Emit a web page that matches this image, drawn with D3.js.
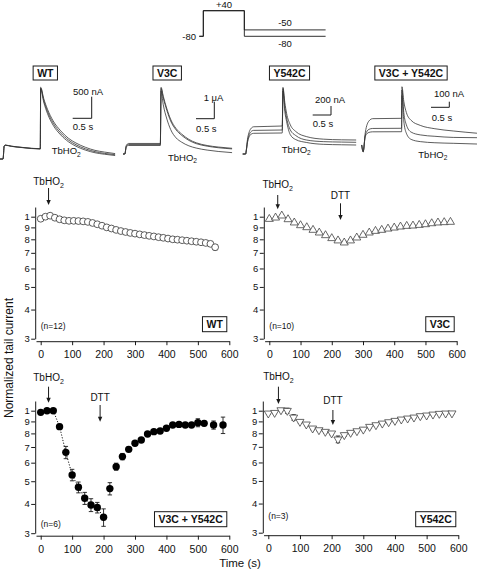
<!DOCTYPE html>
<html><head><meta charset="utf-8">
<script src="https://cdn.jsdelivr.net/npm/d3@7"></script>
<style>
body{margin:0;background:#fff}
svg{display:block}
text{font-family:"Liberation Sans",Arial,Helvetica,sans-serif;fill:#111}
</style>
</head><body>
<svg id="c" width="477" height="571"></svg>
<script>
// ---------------- DATA ----------------
const yTickValues = [0.3,0.4,0.5,0.6,0.7,0.8,0.9,1.0];
const yTickLabels = ["3","4","5","6","7","8","9","1"];
const xTickValues = [0,100,200,300,400,500,600];

const wtTime  = [0,15,30,45,60,75,90,105,120,135,150,165,180,195,210,225,240,255,270,285,300,315,330,345,360,375,390,405,420,435,450,465,480,495,510,525,540,555];
const wtValue = [0.98,1.0,1.01,0.99,0.975,0.965,0.96,0.96,0.958,0.955,0.95,0.94,0.928,0.915,0.9,0.89,0.878,0.868,0.86,0.852,0.846,0.84,0.834,0.828,0.823,0.817,0.812,0.806,0.8,0.797,0.793,0.789,0.785,0.781,0.777,0.772,0.765,0.74];
const wtErr   = [0.005,0.005,0.005,0.005,0.005,0.005,0.005,0.005,0.005,0.005,0.005,0.005,0.005,0.005,0.006,0.006,0.006,0.006,0.007,0.007,0.008,0.008,0.008,0.009,0.009,0.009,0.01,0.01,0.01,0.011,0.011,0.012,0.012,0.012,0.013,0.014,0.015,0.02];

const v3cTime  = [0,20,40,60,80,100,120,140,160,180,200,220,240,260,280,300,320,340,360,380,400,420,440,460,480,500,520,540,560,580];
const v3cValue = [0.977,0.99,1.01,0.974,0.943,0.918,0.9,0.877,0.854,0.832,0.808,0.79,0.774,0.79,0.813,0.835,0.854,0.868,0.877,0.888,0.897,0.906,0.912,0.915,0.921,0.927,0.936,0.943,0.946,0.949];
const v3cErr   = [0.008,0.008,0.01,0.008,0.008,0.008,0.008,0.008,0.008,0.008,0.008,0.01,0.01,0.01,0.008,0.008,0.008,0.008,0.008,0.008,0.008,0.008,0.008,0.008,0.008,0.008,0.008,0.008,0.008,0.01];

const dblTime  = [0,20,40,60,80,100,120,140,160,180,200,220,240,260,280,300,320,340,360,380,400,420,440,460,480,500,520,550,580];
const dblValue = [0.984,1.0,1.0,0.855,0.664,0.532,0.471,0.423,0.396,0.386,0.351,0.465,0.577,0.637,0.684,0.726,0.75,0.795,0.814,0.819,0.841,0.869,0.874,0.869,0.869,0.889,0.883,0.869,0.869];
const dblErr   = [0.01,0.008,0.008,0.02,0.04,0.03,0.025,0.025,0.025,0.02,0.03,0.028,0.02,0.02,0.015,0.012,0.012,0.012,0.012,0.012,0.012,0.015,0.015,0.012,0.012,0.035,0.02,0.035,0.07];

const y542Time  = [0,20,40,60,80,100,120,140,160,180,200,220,240,260,280,300,320,340,360,380,400,420,440,460,480,500,520,540,560,580];
const y542Value = [0.974,0.98,1.006,1.0,0.936,0.897,0.874,0.84,0.826,0.813,0.8,0.754,0.787,0.805,0.818,0.831,0.854,0.868,0.882,0.894,0.906,0.918,0.927,0.936,0.949,0.955,0.964,0.971,0.974,0.975];
const y542Err   = [0.01,0.01,0.012,0.025,0.025,0.012,0.012,0.012,0.01,0.01,0.012,0.025,0.012,0.01,0.01,0.01,0.01,0.01,0.01,0.01,0.01,0.01,0.01,0.01,0.01,0.01,0.01,0.01,0.01,0.01];

// voltage protocol (s, mV)
const protoTime = [0,0.11,0.11,1.23,1.23,3.45];
const protoV50  = [-80,-80,40,40,-50,-50];
const protoV80  = [-80,-80,40,40,-80,-80];

// current traces [time s, current nA]
const wtTraceA = [[0,0],[0.08,0],[0.11,300],[0.14,322],[0.3,298],[0.6,268],[1.06,238],[1.07,1660],[1.15,1400],[1.25,1150],[1.4,880],[1.6,650],[1.8,480],[2.0,370],[2.25,270],[2.5,200],[2.75,160],[3.03,125]];
const wtTraceB = [[0,0],[0.08,0],[0.11,300],[0.14,320],[0.3,295],[0.6,265],[1.06,235],[1.07,1640],[1.15,1360],[1.25,1100],[1.4,830],[1.6,600],[1.8,440],[2.0,330],[2.25,235],[2.5,170],[2.75,130],[3.03,100]];
const wtTraceC = [[0,0],[0.08,0],[0.11,298],[0.14,318],[0.3,292],[0.6,262],[1.06,232],[1.07,1620],[1.15,1320],[1.25,1050],[1.4,780],[1.6,555],[1.8,400],[2.0,295],[2.25,205],[2.5,145],[2.75,110],[3.03,80]];

const v3cTraceA = [[0,0],[0.05,0],[0.09,500],[0.15,620],[1.02,620],[1.04,3920],[1.1,3400],[1.2,2650],[1.3,2050],[1.45,1500],[1.6,1180],[1.8,860],[2.0,660],[2.3,500],[2.6,410],[2.98,335]];
const v3cTraceB = [[0,0],[0.05,0],[0.09,460],[0.15,560],[1.02,560],[1.04,3850],[1.1,3300],[1.2,2550],[1.3,1950],[1.45,1420],[1.6,1100],[1.8,800],[2.0,610],[2.3,460],[2.6,370],[2.98,300]];
const v3cTraceC = [[0,0],[0.05,0],[0.09,420],[0.15,500],[1.02,500],[1.04,3700],[1.1,2900],[1.2,2050],[1.3,1450],[1.45,950],[1.6,700],[1.8,480],[2.0,350],[2.3,230],[2.6,150],[2.98,80]];

const y542TraceA = [[0,0],[0.08,0],[0.1,100],[0.13,320],[0.17,470],[0.22,560],[0.3,605],[1.08,622],[1.1,1480],[1.15,1150],[1.2,900],[1.3,650],[1.45,500],[1.75,385],[2.2,330],[2.7,315],[3.1,311]];
const y542TraceB = [[0,0],[0.08,0],[0.1,90],[0.13,280],[0.17,410],[0.22,490],[0.3,525],[1.08,533],[1.1,1450],[1.15,1050],[1.2,800],[1.3,535],[1.45,410],[1.75,310],[2.2,275],[2.7,265],[3.1,260]];
const y542TraceC = [[0,0],[0.08,0],[0.1,80],[0.13,250],[0.17,370],[0.22,435],[0.3,460],[1.08,467],[1.1,1400],[1.15,950],[1.2,720],[1.3,430],[1.45,320],[1.75,255],[2.2,215],[2.7,205],[3.1,200]];

const dblTraceA = [[0,120],[0.04,0],[0.1,350],[0.2,550],[0.3,590],[1.09,596],[1.1,1160],[1.15,900],[1.22,700],[1.35,560],[1.6,470],[2.0,410],[2.5,370],[3.15,330]];
const dblTraceB = [[0,120],[0.04,0],[0.1,300],[0.2,400],[0.3,415],[1.09,418],[1.1,1100],[1.15,700],[1.22,480],[1.35,350],[1.6,300],[2.0,275],[2.5,255],[3.15,250]];
const dblTraceC = [[0,120],[0.04,0],[0.1,280],[0.2,345],[0.3,355],[1.09,357],[1.1,1000],[1.15,550],[1.22,330],[1.35,220],[1.6,180],[2.0,160],[2.5,150],[3.15,137]];

// ---------------- DRAWING ----------------
const svg = d3.select('#c');
const ink = '#1a1a1a';

function tbho2(g, x, y, size, anchor) {
  const t = g.append('text').attr('x', x).attr('y', y).attr('font-size', size).attr('text-anchor', anchor || 'start');
  t.append('tspan').text('TbHO');
  t.append('tspan').attr('font-size', size * 0.7).attr('dy', size * 0.3).text('2');
  return t;
}
function boxLabel(parent, x, cy, text, anchor, h) {
  const g = parent.append('g');
  const r = g.append('rect');
  const t = g.append('text').attr('font-weight', 'bold').attr('font-size', 10.5)
    .attr('x', 0).attr('y', cy + 3.8).text(text);
  const w = t.node().getComputedTextLength() + 8;
  const left = anchor === 'end' ? x - w : x - w / 2;
  t.attr('x', left + 4);
  r.attr('x', left).attr('y', cy - h / 2).attr('width', w).attr('height', h)
    .attr('fill', '#fff').attr('stroke', ink).attr('stroke-width', 1);
}
function arrow(g, x, y0, y1) {
  g.append('line').attr('x1', x).attr('x2', x).attr('y1', y0).attr('y2', y1 - 4)
    .attr('stroke', ink).attr('stroke-width', 1);
  g.append('path').attr('d', `M${x - 2.2},${y1 - 5}L${x + 2.2},${y1 - 5}L${x},${y1}Z`).attr('fill', ink);
}

// ---- voltage protocol ----
{
  const g = svg.append('g');
  const px = d3.scaleLinear().domain([0, 3.45]).range([199.3, 325.6]);
  const py = d3.scaleLinear().domain([-80, 40]).range([36.3, 10.7]);
  const ln = d3.line().x(d => px(d[0])).y(d => py(d[1]));
  [protoV50, protoV80].forEach(v => {
    g.append('path').attr('d', ln(protoTime.map((t, i) => [t, v[i]])))
      .attr('fill', 'none').attr('stroke', ink).attr('stroke-width', 0.9);
  });
  g.append('text').attr('x', 224).attr('y', 7.5).attr('font-size', 9.5).attr('text-anchor', 'middle').text('+40');
  g.append('text').attr('x', 196).attr('y', 39.5).attr('font-size', 9.5).attr('text-anchor', 'end').text('-80');
  g.append('text').attr('x', 285).attr('y', 25.5).attr('font-size', 9.5).attr('text-anchor', 'middle').text('-50');
  g.append('text').attr('x', 285).attr('y', 46.5).attr('font-size', 9.5).attr('text-anchor', 'middle').text('-80');
}

// ---- current trace panels ----
const tracePanels = [
  {label: 'WT', lx: 45.3, ox: 0, oy: 159, pxs: 38, pxn: 0.0432, traces: [wtTraceA, wtTraceB, wtTraceC],
   bar: {x: 91.7, y: 118.3, nA: 500, text: '500 nA', tx: 88, ty: 94.5}, sx: 72.7, sy: 130, tb: [51.7, 154]},
  {label: 'V3C', lx: 167.2, ox: 123, oy: 154, pxs: 36.6, pxn: 0.017, traces: [v3cTraceA, v3cTraceB, v3cTraceC],
   bar: {x: 214.3, y: 118.7, nA: 1000, text: '1 \u03BCA', tx: 213.5, ty: 101}, sx: 196, sy: 131.5, tb: [168, 160.5]},
  {label: 'Y542C', lx: 289.5, ox: 242.7, oy: 154, pxs: 36.6, pxn: 0.045, traces: [y542TraceA, y542TraceB, y542TraceC],
   bar: {x: 331, y: 115, nA: 200, text: '200 nA', tx: 330, ty: 102.5}, sx: 312.7, sy: 126.8, tb: [281.7, 152.5]},
  {label: 'V3C + Y542C', lx: 411, ox: 361.7, oy: 151.7, pxs: 36.6, pxn: 0.056, traces: [dblTraceA, dblTraceB, dblTraceC],
   bar: {x: 449.3, y: 107.3, nA: 100, text: '100 nA', tx: 449, ty: 96.8}, sx: 431.7, sy: 120.8, tb: [418.3, 157.5]}
];
tracePanels.forEach(p => {
  const g = svg.append('g');
  const xs = d3.scaleLinear().domain([0, 1]).range([p.ox, p.ox + p.pxs]);
  const ys = d3.scaleLinear().domain([0, 1000]).range([p.oy, p.oy - 1000 * p.pxn]);
  const ln = d3.line().x(d => xs(d[0])).y(d => ys(d[1])).curve(d3.curveMonotoneX);
  p.traces.forEach(tr => {
    g.append('path').attr('d', ln(tr)).attr('fill', 'none').attr('stroke', '#333').attr('stroke-width', 0.8);
  });
  const b = p.bar;
  const hx0 = b.x - (xs(0.5) - xs(0));
  const vy0 = b.y - (ys(0) - ys(b.nA));
  g.append('path').attr('d', `M${hx0},${b.y}L${b.x},${b.y}L${b.x},${vy0}`)
    .attr('fill', 'none').attr('stroke', ink).attr('stroke-width', 1);
  g.append('text').attr('x', b.tx).attr('y', b.ty).attr('font-size', 9.5).attr('text-anchor', 'middle').text(b.text);
  g.append('text').attr('x', p.sx).attr('y', p.sy).attr('font-size', 9.5).text('0.5 s');
  tbho2(g, p.tb[0], p.tb[1], 9.5, 'start');
  boxLabel(g, p.lx, 73, p.label, 'middle', 14);
});

// ---- normalized tail current panels ----
const panels = [
  {x0: 40.7, x6: 229.3, yb: 338.7, yt: 216.7, time: wtTime, value: wtValue, err: wtErr, marker: 'circle',
   n: '(n=12)', ny: 328.5, label: 'WT', lcy: 324.2,
   arrows: [{t: 25, text: 'tb', ty: 185, y0: 188, y1: 205}]},
  {x0: 269.3, x6: 456.7, yb: 338.7, yt: 216.7, time: v3cTime, value: v3cValue, err: v3cErr, marker: 'up',
   n: '(n=10)', ny: 328.5, label: 'V3C', lcy: 324.2,
   arrows: [{t: 27, text: 'tb', ty: 187.5, y0: 195, y1: 209.3}, {t: 228, text: 'DTT', ty: 198.5, y0: 203.3, y1: 220}]},
  {x0: 40.7, x6: 229.3, yb: 533.2, yt: 410.7, time: dblTime, value: dblValue, err: dblErr, marker: 'filled',
   n: '(n=6)', ny: 526.5, label: 'V3C + Y542C', lcy: 519.2, dotted: [2, 10],
   arrows: [{t: 25, text: 'tb', ty: 380.5, y0: 386.7, y1: 402.7}, {t: 189, text: 'DTT', ty: 400.8, y0: 405, y1: 421.7}]},
  {x0: 268.3, x6: 458.3, yb: 532.7, yt: 410.7, time: y542Time, value: y542Value, err: y542Err, marker: 'down',
   n: '(n=3)', ny: 518.5, label: 'Y542C', lcy: 519.2,
   arrows: [{t: 32, text: 'tb', ty: 380, y0: 386.7, y1: 404}, {t: 204, text: 'DTT', ty: 404.2, y0: 410, y1: 425}]}
];

panels.forEach(p => {
  const g = svg.append('g');
  const x = d3.scaleLinear().domain([0, 600]).range([p.x0, p.x6]);
  const y = d3.scaleLog().domain([0.3, 1]).range([p.yb, p.yt]);
  const axX = x(0) - 5.5;
  const yAx = d3.scaleLog().domain([0.3, 1.1]).range([y(0.3), y(1.1)]);
  const gy = g.append('g').attr('transform', `translate(${axX},0)`)
    .call(d3.axisLeft(yAx).tickValues(yTickValues).tickSize(4).tickSizeOuter(0).tickPadding(1.5)
      .tickFormat((d, i) => yTickLabels[i]));
  gy.selectAll('text').attr('font-size', 9.5);
  const xAx = d3.scaleLinear().domain([-15, 600]).range([x(-15), x(600)]);
  const gx = g.append('g').attr('transform', `translate(0,${y(0.3) + 2.5})`)
    .call(d3.axisBottom(xAx).tickValues(xTickValues).tickSize(4).tickSizeOuter(0).tickPadding(5.5));
  gx.selectAll('text').attr('font-size', 10.5);
  [gy, gx].forEach(a => {
    a.attr('font-family', null).attr('font-size', null);
    a.select('.domain').attr('stroke', ink);
    a.selectAll('line').attr('stroke', ink);
  });

  const pts = p.time.map((t, i) => ({t, v: p.value[i], e: p.err[i]}));
  if (p.dotted) {
    g.append('path').attr('d', d3.line().x(d => x(d.t)).y(d => y(d.v))(pts.slice(p.dotted[0], p.dotted[1] + 1)))
      .attr('fill', 'none').attr('stroke', ink).attr('stroke-width', 1).attr('stroke-dasharray', '1.2,1.6');
  }
  const eb = g.append('g').attr('stroke', ink).attr('stroke-width', 0.9);
  pts.forEach(d => {
    const xp = x(d.t), ya = y(d.v - d.e), yb2 = y(d.v + d.e);
    eb.append('line').attr('x1', xp).attr('x2', xp).attr('y1', ya).attr('y2', yb2);
    eb.append('line').attr('x1', xp - 2.2).attr('x2', xp + 2.2).attr('y1', ya).attr('y2', ya);
    eb.append('line').attr('x1', xp - 2.2).attr('x2', xp + 2.2).attr('y1', yb2).attr('y2', yb2);
  });
  const mg = g.append('g');
  pts.forEach(d => {
    const xp = x(d.t), yp = y(d.v);
    if (p.marker === 'circle') {
      mg.append('circle').attr('cx', xp).attr('cy', yp).attr('r', 3.4).attr('fill', '#fff').attr('stroke', '#333').attr('stroke-width', 0.8);
    } else if (p.marker === 'filled') {
      mg.append('circle').attr('cx', xp).attr('cy', yp).attr('r', 3.7).attr('fill', '#000');
    } else {
      const rot = p.marker === 'down' ? 180 : 0;
      mg.append('path').attr('d', d3.symbol(d3.symbolTriangle, 28)())
        .attr('transform', `translate(${xp},${yp}) rotate(${rot})`)
        .attr('fill', '#fff').attr('stroke', '#444').attr('stroke-width', 0.8);
    }
  });
  p.arrows.forEach(a => {
    const ax = x(a.t);
    arrow(g, ax, a.y0, a.y1);
    if (a.text === 'tb') tbho2(g, ax, a.ty, 10, 'middle');
    else g.append('text').attr('x', ax).attr('y', a.ty).attr('font-size', 10).attr('text-anchor', 'middle').text(a.text);
  });
  g.append('text').attr('x', x(0)).attr('y', p.ny).attr('font-size', 8.5).text(p.n);
  boxLabel(g, x(600) - 2.5, p.lcy, p.label, 'end', 15);
});

svg.append('text').attr('transform', 'translate(12.5,358) rotate(-90)').attr('font-size', 12)
  .attr('text-anchor', 'middle').text('Normalized tail current');
svg.append('text').attr('x', 240).attr('y', 567).attr('font-size', 11.5).attr('text-anchor', 'middle').text('Time (s)');
</script>
</body></html>
